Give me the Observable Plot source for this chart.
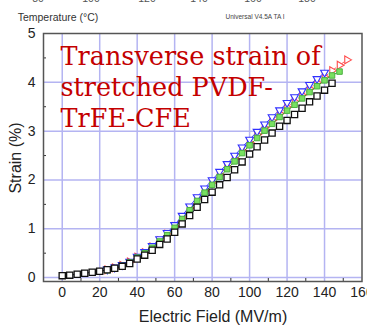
<!DOCTYPE html>
<html><head><meta charset="utf-8">
<script src="https://cdn.jsdelivr.net/npm/d3@7"></script>
<script src="https://cdn.jsdelivr.net/npm/@observablehq/plot@0.6"></script>
<style>body{margin:0;background:#fff;overflow:hidden}#chart{width:367px;height:326px;overflow:hidden}</style>
</head><body><div id="chart"></div>
<script>
// ---- data ----
const blackX = [0,4,8,12,16,20,24,28,32,36,40,44,48,52,56,60,64,68,72,76,80,84,88,92,96,100,104,108,112,116,120,124,128,132,136,140,144];
const blackY = [0.04,0.05,0.07,0.09,0.11,0.13,0.16,0.19,0.23,0.29,0.38,0.46,0.56,0.68,0.79,0.93,1.10,1.27,1.44,1.60,1.75,1.90,2.05,2.21,2.37,2.53,2.68,2.82,2.96,3.10,3.22,3.34,3.47,3.60,3.72,3.84,3.98];
const blueX = [24,28,32,36,40,44,48,52,56,60,64,68,72,76,80,84,88,92,96,100,104,108,112,116,120,124,128,132,136,140];
const blueY = [0.17,0.21,0.26,0.33,0.43,0.53,0.65,0.79,0.92,1.08,1.27,1.46,1.65,1.83,2.00,2.17,2.33,2.50,2.67,2.83,2.99,3.14,3.29,3.43,3.58,3.70,3.82,3.95,4.07,4.20];
const redX = [24,28,32,36,40,44,48,52,56,60,64,68,72,76,80,84,88,92,96,100,104,108,112,116,120,124,128,132,136,140,144,148,152];
const redY = [0.16,0.20,0.25,0.32,0.42,0.51,0.63,0.76,0.89,1.05,1.23,1.42,1.61,1.78,1.95,2.11,2.27,2.44,2.61,2.77,2.93,3.07,3.22,3.36,3.49,3.61,3.74,3.87,3.99,4.11,4.24,4.35,4.46];
const greenX = [24,28,32,36,40,44,48,52,56,60,64,68,72,76,80,84,88,92,96,100,104,108,112,116,120,124,128,132,136,140,144,148];
const greenY = [0.15,0.19,0.24,0.31,0.41,0.50,0.61,0.74,0.87,1.02,1.20,1.38,1.57,1.74,1.90,2.06,2.22,2.38,2.55,2.71,2.86,3.01,3.15,3.29,3.42,3.54,3.67,3.80,3.92,4.04,4.14,4.22];

const xTicks = [0,20,40,60,80,100,120,140,160];
const yTicks = [0,1,2,3,4,5];
const xGrid = [0,20,40,60,80,100,120,140];
const yGrid = [0,1,2,3,4];
const xMinor = [10,30,50,70,90,110,130,150];
const yMinor = [0.5,1.5,2.5,3.5,4.5];
const titleText = "Transverse strain of\nstretched PVDF-\nTrFE-CFE";
const xLabel = "Electric Field (MV/m)";
const yLabel = "Strain (%)";
const topLabel = "Temperature (°C)";
const topNote = "Universal V4.5A TA I";
const topTicks = ["80","100","120","140","160","180"];

const rows = (xs, ys) => xs.map((x,i)=>({x, y: ys[i]}));
const black = rows(blackX, blackY), blue = rows(blueX, blueY), red = rows(redX, redY), green = rows(greenX, greenY);

const S3 = Math.sqrt(3);
const triDown = {draw(c, size){const y=Math.sqrt(size/(S3*3)); c.moveTo(0,2*y); c.lineTo(-S3*y,-y); c.lineTo(S3*y,-y); c.closePath();}};
const triRight = {draw(c, size){const y=Math.sqrt(size/(S3*3)); c.moveTo(2*y,0); c.lineTo(-y,-S3*y); c.lineTo(-y,S3*y); c.closePath();}};

const plot = Plot.plot({
  width: 367, height: 326,
  marginLeft: 43, marginRight: 5.5, marginTop: 33, marginBottom: 45,
  x: {domain: [-10, 160]},
  y: {domain: [-0.08, 5]},
  style: {fontFamily: "'Liberation Sans', Arial, sans-serif", fontSize: "14px", color: "#222", background: "transparent"},
  marks: [
    Plot.gridX(xGrid, {stroke: "#b4b4f2", strokeOpacity: 1, strokeWidth: 1.5}),
    Plot.gridY(yGrid, {stroke: "#b4b4f2", strokeOpacity: 1, strokeWidth: 1.5}),
    Plot.axisX(xTicks, {tickSize: 0, tickPadding: 6, fontSize: 14, label: null}),
    Plot.axisY(yTicks, {tickSize: 0, tickPadding: 8, fontSize: 14, label: null}),
    Plot.axisX(xMinor, {tickSize: -3, tickFormat: () => "", label: null, stroke: "#333"}),
    Plot.axisY(yMinor, {tickSize: -3, tickFormat: () => "", label: null, stroke: "#333"}),
    Plot.text([titleText], {frameAnchor: "top-left", dx: 17, dy: 9.5, lineAnchor: "top", textAnchor: "start",
      fontSize: 25.5, fontFamily: "'DejaVu Serif', serif", fill: "#c40000", lineHeight: 1.22}),
    Plot.line(red, {x: "x", y: "y", stroke: "#ff5a5a", strokeWidth: 1, strokeDasharray: "3,2"}),
    Plot.dot(red, {x: "x", y: "y", symbol: triRight, r: 2.9, stroke: "#ff4a4a", strokeWidth: 1.1, fill: "white"}),
    Plot.line(blue, {x: "x", y: "y", stroke: "#3a3aff", strokeWidth: 1}),
    Plot.dot(blue, {x: "x", y: "y", symbol: triDown, r: 2.9, stroke: "#3030ff", strokeWidth: 1.1, fill: "white"}),
    Plot.line(green, {x: "x", y: "y", stroke: "#3aa030", strokeWidth: 1}),
    Plot.dot(green, {x: "x", y: "y", symbol: "square", r: 3.1, stroke: "#4cb040", strokeWidth: 1, fill: "#78e060"}),
    Plot.line(black, {x: "x", y: "y", stroke: "#1a1a3a", strokeWidth: 1}),
    Plot.dot(black, {x: "x", y: "y", symbol: "square", r: 3.5, stroke: "#111", strokeWidth: 1.3, fill: "white"}),
    Plot.frame({stroke: "#555", strokeWidth: 1.5})
  ]
});
document.getElementById("chart").append(plot);

const svg = d3.select(plot);
svg.append("text").attr("x", 213).attr("y", 322).attr("text-anchor", "middle")
  .style("font-size", "16px").style("font-family", "'Liberation Sans', Arial, sans-serif").attr("fill", "#222").text(xLabel);
svg.append("text").attr("transform", "translate(21,158) rotate(-90)").attr("text-anchor", "middle")
  .style("font-size", "16px").style("font-family", "'Liberation Sans', Arial, sans-serif").attr("fill", "#222").text(yLabel);
svg.append("text").attr("x", 58).attr("y", 21)
  .style("font-size", "10.5px").style("font-family", "'Liberation Sans', Arial, sans-serif").attr("fill", "#333").text(topLabel);
svg.append("text").attr("x", 255).attr("y", 19)
  .style("font-size", "6.5px").style("font-family", "'Liberation Sans', Arial, sans-serif").attr("fill", "#444").text(topNote);
const topX = [38, 91, 147, 199, 253, 307];
topTicks.forEach((t, i) => svg.append("text").attr("x", topX[i]).attr("y", 2).attr("text-anchor", "middle")
  .style("font-size", "10.5px").style("font-family", "'Liberation Sans', Arial, sans-serif").attr("fill", "#555").text(t));
svg.append("text").attr("x", -5).attr("y", 305)
  .style("font-size", "17px").style("font-family", "'Liberation Sans', Arial, sans-serif").attr("fill", "#111").text("0");
</script></body></html>
